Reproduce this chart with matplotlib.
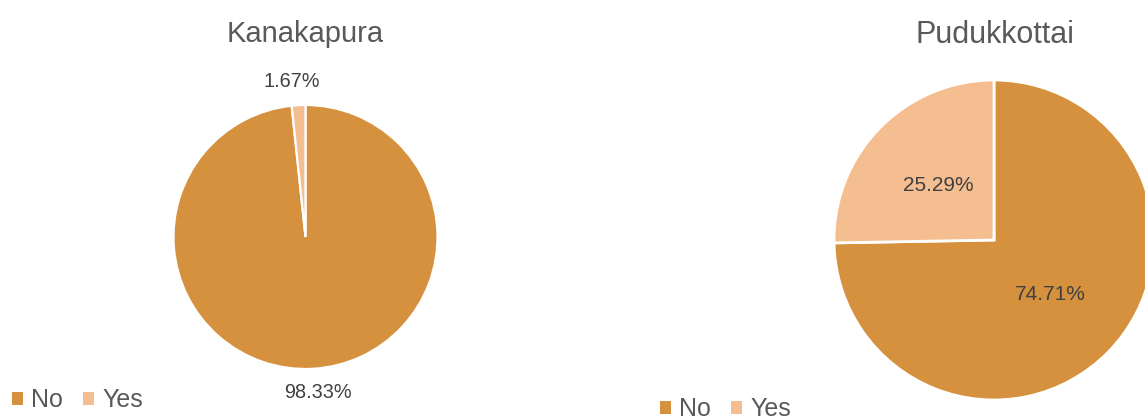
import matplotlib
matplotlib.use("Agg")
import matplotlib.pyplot as plt
from matplotlib.patches import Patch

plt.rcParams['font.family'] = ['Liberation Sans', 'DejaVu Sans']

categories = ["No", "Yes"]
kanakapura_values = [98.33, 1.67]
pudukkottai_values = [74.71, 25.29]
titles = ["Kanakapura", "Pudukkottai"]
colors = ["#D6913E", "#F5BE91"]

W, H = 1145, 419
fig = plt.figure(figsize=(W / 100, H / 100), dpi=100)
fig.patch.set_facecolor("white")


def add_pie_axes(cx, cy, r):
    return fig.add_axes([(cx - r) / W, (H - cy - r) / H, 2 * r / W, 2 * r / H])


# Left pie
ax1 = add_pie_axes(305.5, 237, 132)
w1, t1, a1 = ax1.pie(kanakapura_values, colors=colors, startangle=90, counterclock=False,
                     autopct='%.2f%%', pctdistance=1.18,
                     wedgeprops=dict(edgecolor='white', linewidth=1.6),
                     textprops=dict(color='#404040', fontsize=14.3))
ax1.set_xlim(-1, 1); ax1.set_ylim(-1, 1); ax1.set_aspect('equal'); ax1.axis('off')
# small nudges of the outside labels
x0, y0 = a1[0].get_position(); a1[0].set_position((x0 + 0.03, y0))
x1, y1 = a1[1].get_position(); a1[1].set_position((x1 - 0.045, y1))

# Right pie
ax2 = add_pie_axes(994, 240, 160)
w2, t2, a2 = ax2.pie(pudukkottai_values, colors=colors, startangle=90, counterclock=False,
                     autopct='%.2f%%', pctdistance=0.49,
                     wedgeprops=dict(edgecolor='white', linewidth=2),
                     textprops=dict(color='#404040', fontsize=15))
ax2.set_xlim(-1, 1); ax2.set_ylim(-1, 1); ax2.set_aspect('equal'); ax2.axis('off')

# Titles
fig.text(305.5 / W, 1 - 42 / H, titles[0], ha='center', va='baseline', fontsize=21, color='#595959')
fig.text(995 / W, 1 - 43 / H, titles[1], ha='center', va='baseline', fontsize=22, color='#595959')

# Legends
handles = [Patch(facecolor=c, edgecolor='none') for c in colors]
for x, y in [(12, 400), (660, 409)]:
    fig.legend(handles, categories, loc='center left', bbox_to_anchor=(x / W, 1 - y / H),
               ncol=2, frameon=False, fontsize=18, labelcolor='#595959',
               handlelength=0.42, handleheight=0.42, handletextpad=0.35,
               columnspacing=0.8, borderpad=0, borderaxespad=0)

fig.savefig("out.png", dpi=100, facecolor="white")
